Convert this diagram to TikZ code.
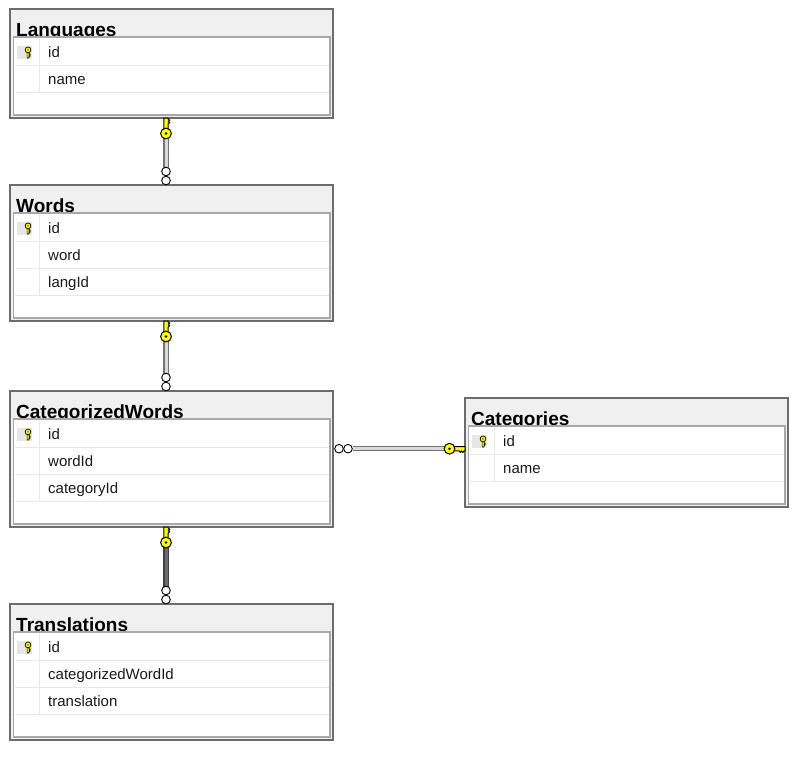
\documentclass[tikz,border=0pt]{standalone}
\usepackage{fontspec}
\setmainfont{Liberation Sans}
\usetikzlibrary{calc}

\definecolor{titlebar}{HTML}{F0F0F0}
\definecolor{outerline}{HTML}{6C6C6C}
\definecolor{innerline}{HTML}{A8A8A8}
\definecolor{sepline}{HTML}{E8E8E8}
\definecolor{keycell}{HTML}{E6E6E6}
\definecolor{keyyellow}{HTML}{FFFF00}
\definecolor{bodytext}{HTML}{1A1A1A}

\tikzset{
  tblouter/.style={draw=outerline, line width=1.3pt, fill=titlebar, inner sep=0pt, outer sep=0pt, minimum width=323pt},
  tblinner/.style={draw=innerline, line width=1.4pt, fill=white, inner sep=0pt, outer sep=0pt, minimum width=316.5pt},
  tbltitle/.style={inner sep=0pt, font=\fontsize{19}{22}\selectfont\bfseries, text=black},
  tbltext/.style={inner sep=0pt, font=\fontsize{15}{18}\selectfont, text=bodytext},
  rowsep/.style={draw=sepline, line width=1pt},
  keyline/.style={fill=keyyellow, draw=black, line width=1pt, line join=round},
  ring/.style={fill=white, draw=black, line width=0.9pt},
  tube/.style={draw=black!55, line width=1.1pt, double=black!15, double distance=3pt},
  tubesel/.style={draw=black!75, line width=1.1pt, double=black!58, double distance=3pt},
  % small key glyph in the primary-key cell
  pkicon/.pic={
    \fill[keycell] (-7.5,-6.5) rectangle (7.5,6.5);
    \filldraw[keyline, line width=0.7pt] (2.6,-1) -- (4.4,-1) -- (4.4,1) -- (5.8,1.8) -- (4.4,2.6) -- (5.8,3.4) -- (4.4,4.2) -- (4.4,5.4) -- (2.6,5.4) -- cycle;
    \filldraw[keyline, line width=0.7pt] (3.5,-2.6) circle (2.9pt);
    \fill[black] (3.5,-2.6) circle (0.7pt);
  },
  % key end of a relationship, drawn from the table edge outwards
  pkkey/.pic={
    \filldraw[keyline] (-2.2,0) -- (2.2,0) -- (2.2,1) -- (3.8,2.2) -- (2.2,3.4) -- (3.8,4.6) -- (2.2,5.8) -- (2.2,11) -- (-2.2,11) -- cycle;
    \filldraw[keyline] (0,15.5) circle (5.4pt);
    \fill[black] (0,15.5) circle (1.3pt);
  },
  % "many" end of a relationship, two rings next to the table edge
  fkrings/.pic={
    \filldraw[ring] (0,-4.5) circle (4.3pt);
    \filldraw[ring] (0,-13.5) circle (4.3pt);
  }
}

% #1 name, #2 left, #3 top, #4 title, #5 number of columns, #6 column list
\newcommand\ertable[6]{%
  \node[tblouter, minimum height={55+27*#5}, anchor=north west] (#1) at ({#2},{#3}) {};
  \node[tbltitle, anchor=base west] (#1-title) at ({#2+6},{#3+27}) {#4};
  \node[tblinner, minimum height={24+27*#5}, anchor=north west] (#1-body) at ({#2+3.5},{#3+28}) {};
  \draw[rowsep] ({#2+29.5},{#3+29}) -- ({#2+29.5},{#3+56+27*(#5-1)});
  \foreach \c [count=\i] in {#6} {
    \draw[rowsep] ({#2+4.5},{#3+29+27*\i}) -- ({#2+319},{#3+29+27*\i});
    \node[tbltext, anchor=base west] (#1-c\i) at ({#2+38},{#3+48+27*(\i-1)}) {\c};
  }
  \pic at ({#2+14.5},{#3+43.5}) {pkicon};
}

\begin{document}
\begin{tikzpicture}[x=1pt, y=-1pt]
  \useasboundingbox[fill=white] (0,0) rectangle (799,758);

  % tables
  \ertable{lang}{10}{9}{Languages}{2}{id,name}
  \ertable{words}{10}{185}{Words}{3}{id,word,langId}
  \ertable{cw}{10}{391}{CategorizedWords}{3}{id,wordId,categoryId}
  \ertable{cat}{465}{398}{Categories}{2}{id,name}
  \ertable{trans}{10}{604}{Translations}{3}{id,categorizedWordId,translation}

  % relationship end points
  \path (lang.south west) ++(156,0) coordinate (r1pk);
  \path (words.north west) ++(156,0) coordinate (r1fk);
  \path (words.south west) ++(156,0) coordinate (r2pk);
  \path (cw.north west) ++(156,0) coordinate (r2fk);
  \path (cw.south west) ++(156,0) coordinate (r4pk);
  \path (trans.north west) ++(156,0) coordinate (r4fk);
  \path (cat.north west) ++(0,50.7) coordinate (r3pk);
  \path (cw.north east) ++(0,57.7) coordinate (r3fk);

  % relationship lines
  \draw[tube, shorten <=20pt, shorten >=17.5pt] (r1pk) -- (r1fk);
  \draw[tube, shorten <=20pt, shorten >=17.5pt] (r2pk) -- (r2fk);
  \draw[tubesel, shorten <=20pt, shorten >=17.5pt] (r4pk) -- (r4fk);
  \draw[tube, shorten <=20pt, shorten >=20pt] (r3pk) -- (r3fk);

  % relationship ends
  \pic at (r1pk) {pkkey};
  \pic at (r1fk) {fkrings};
  \pic at (r2pk) {pkkey};
  \pic at (r2fk) {fkrings};
  \pic at (r4pk) {pkkey};
  \pic at (r4fk) {fkrings};
  \pic[rotate=-90] at (r3pk) {pkkey};
  \pic[rotate=-90] at ([xshift=1.5pt]r3fk) {fkrings};
\end{tikzpicture}
\end{document}
